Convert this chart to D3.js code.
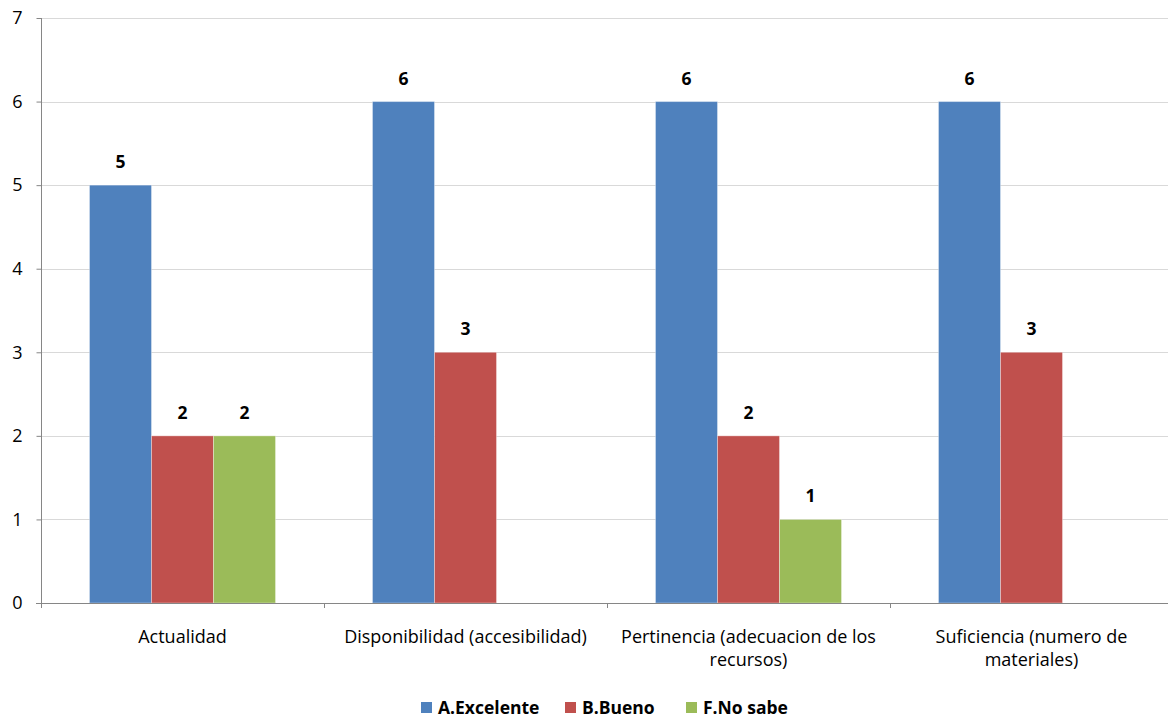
<!DOCTYPE html>
<html>
<head>
<meta charset="utf-8">
<script src="https://cdn.jsdelivr.net/npm/d3@7"></script>
<style>
  body { margin: 0; background: #fff; }
  svg { display: block; font-family: "Open Sans", sans-serif; }
  .grid line { stroke: #d9d9d9; }
</style>
</head>
<body>
<div id="chart"></div>
<script>
// chart data
const categories = [
  ["Actualidad"],
  ["Disponibilidad (accesibilidad)"],
  ["Pertinencia (adecuacion de los", "recursos)"],
  ["Suficiencia (numero de", "materiales)"]
];
const seriesNames = ["A.Excelente", "B.Bueno", "F.No sabe"];
const excelente = [5, 6, 6, 6];
const bueno = [2, 3, 2, 3];
const noSabe = [2, 0, 1, 0];
const yTicks = [0, 1, 2, 3, 4, 5, 6, 7];
const colors = ["#4f81bd", "#c0504d", "#9bbb59"];

const width = 1168, height = 720;
const margin = { left: 41, top: 18, bottom: 117 };
const plotRight = 1173; // plot runs past the right edge
const fontSize = "18px";
const boldSize = "17.5px";

const svg = d3.select("#chart").append("svg")
  .attr("width", width)
  .attr("height", height);

const x0 = d3.scaleBand()
  .domain(d3.range(categories.length))
  .range([margin.left, plotRight])
  .padding(0);

const x1 = d3.scaleBand()
  .domain(d3.range(seriesNames.length))
  .range([0, x0.bandwidth()])
  .paddingInner(0)
  .paddingOuter(0.782);

const y = d3.scaleLinear()
  .domain([0, 7])
  .range([height - margin.bottom, margin.top]);

// gridlines
svg.append("g")
  .attr("class", "grid")
  .selectAll("line")
  .data(yTicks.filter(d => d > 0))
  .enter()
  .append("line")
  .attr("x1", margin.left)
  .attr("x2", plotRight)
  .attr("y1", d => Math.round(y(d)) + 0.5)
  .attr("y2", d => Math.round(y(d)) + 0.5);

// bars
const allSeries = [excelente, bueno, noSabe];
const rows = [];
allSeries.forEach((vals, s) => {
  vals.forEach((v, c) => rows.push({ s: s, c: c, v: v }));
});

svg.append("g")
  .selectAll("rect")
  .data(rows.filter(d => d.v > 0))
  .enter()
  .append("rect")
  .attr("x", d => x0(d.c) + x1(d.s))
  .attr("y", d => y(d.v))
  .attr("width", x1.bandwidth())
  .attr("height", d => y(0) - y(d.v))
  .attr("fill", d => colors[d.s])
  .attr("stroke", "rgba(255,255,255,0.35)")
  .attr("stroke-width", 1);

// value labels
svg.append("g")
  .selectAll("text")
  .data(rows.filter(d => d.v > 0))
  .enter()
  .append("text")
  .attr("x", d => x0(d.c) + x1(d.s) + x1.bandwidth() / 2)
  .attr("y", d => y(d.v) - 17)
  .attr("text-anchor", "middle")
  .style("font-size", boldSize)
  .style("font-weight", "bold")
  .style("fill", "#000")
  .text(d => d.v);

// y axis
const yAxis = svg.append("g")
  .attr("transform", "translate(" + (margin.left + 0.5) + ",0)")
  .call(d3.axisLeft(y).tickValues(yTicks).tickFormat(d3.format("d")).tickSize(5).tickPadding(14));
yAxis.select(".domain").attr("stroke", "#868686").attr("d", "M0," + y(7) + "V" + y(0));
yAxis.selectAll(".tick line").attr("stroke", "#868686");
yAxis.selectAll("text")
  .style("font-size", fontSize)
  .style("fill", "#000")
  .style("font-family", "'Open Sans', sans-serif");

// x axis line and ticks at band boundaries
const xAxisG = svg.append("g");
xAxisG.append("line")
  .attr("x1", margin.left - 5)
  .attr("x2", plotRight)
  .attr("y1", y(0) + 0.5)
  .attr("y2", y(0) + 0.5)
  .attr("stroke", "#868686");
xAxisG.selectAll(".xt")
  .data(d3.range(categories.length + 1))
  .enter()
  .append("line")
  .attr("class", "xt")
  .attr("x1", d => Math.round(margin.left + d * x0.step()) + 0.5)
  .attr("x2", d => Math.round(margin.left + d * x0.step()) + 0.5)
  .attr("y1", y(0))
  .attr("y2", y(0) + 5)
  .attr("stroke", "#868686");

// category labels
const catLabel = svg.append("g")
  .selectAll("text")
  .data(categories)
  .enter()
  .append("text")
  .attr("x", (d, i) => x0(i) + x0.bandwidth() / 2)
  .attr("y", y(0) + 40)
  .attr("text-anchor", "middle")
  .style("font-size", fontSize)
  .style("fill", "#000");
catLabel.selectAll("tspan")
  .data(d => d)
  .enter()
  .append("tspan")
  .attr("x", function() { return d3.select(this.parentNode).attr("x"); })
  .attr("dy", (d, i) => i === 0 ? 0 : 23)
  .text(d => d);

// legend
const legendX = [421, 565, 686];
const legend = svg.append("g")
  .selectAll("g")
  .data(seriesNames)
  .enter()
  .append("g")
  .attr("transform", (d, i) => "translate(" + legendX[i] + ",702)");
legend.append("rect")
  .attr("width", 11)
  .attr("height", 11)
  .attr("fill", (d, i) => colors[i]);
legend.append("text")
  .attr("x", 17)
  .attr("y", 12)
  .style("font-size", boldSize)
  .style("font-weight", "bold")
  .style("fill", "#000")
  .text(d => d);
</script>
</body>
</html>
